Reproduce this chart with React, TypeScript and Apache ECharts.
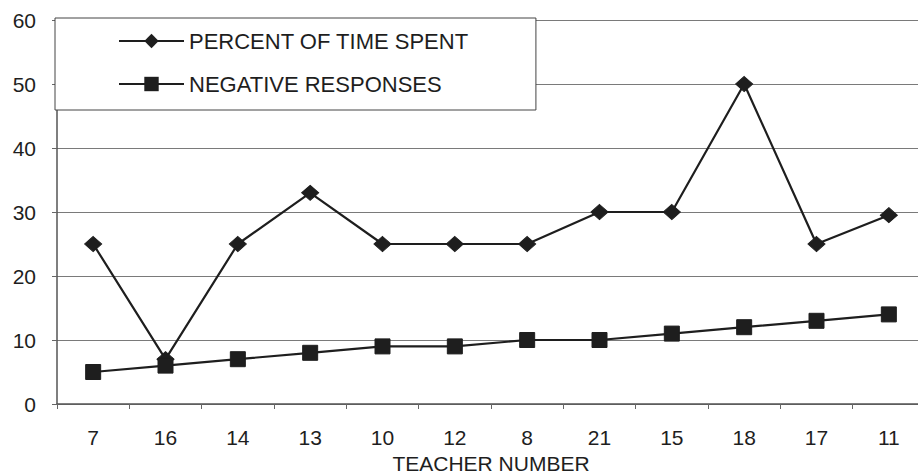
import React, { useEffect, useRef } from "react";
import * as echarts from "echarts";

const categories = ["7", "16", "14", "13", "10", "12", "8", "21", "15", "18", "17", "11"];
const percentTimeSpent = [25, 7, 25, 33, 25, 25, 25, 30, 30, 50, 25, 29.5];
const negativeResponses = [5, 6, 7, 8, 9, 9, 10, 10, 11, 12, 13, 14];
const yTicks = { min: 0, max: 60, interval: 10 };

export default function App() {
  const ref = useRef<HTMLDivElement>(null);
  useEffect(() => {
    if (!ref.current) return;
    const chart = echarts.init(ref.current, null, { renderer: "svg" });
    const ink = "#1e1e1e";
    chart.setOption({
      animation: false,
      backgroundColor: "#ffffff",
      textStyle: { fontFamily: "Liberation Sans", color: ink },
      grid: { left: 57, right: -7, top: 20, bottom: 71, containLabel: false, outerBoundsMode: "none" },
      legend: {
        orient: "vertical",
        left: 55,
        top: 18,
        padding: [12, 67, 15, 63],
        itemGap: 21,
        itemWidth: 65,
        itemHeight: 18,
        backgroundColor: "#ffffff",
        borderColor: "#444",
        borderWidth: 1,
        borderRadius: 0,
        textStyle: { fontSize: 22, color: ink, fontFamily: "Liberation Sans" },
        data: ["PERCENT OF TIME SPENT", "NEGATIVE RESPONSES"],
      },
      xAxis: {
        type: "category",
        data: categories,
        boundaryGap: true,
        name: "TEACHER NUMBER",
        nameLocation: "middle",
        nameGap: 45,
        nameTextStyle: { fontSize: 21, color: ink },
        axisLine: { show: true, lineStyle: { color: "#555", width: 1.5 } },
        axisTick: { show: true, alignWithLabel: false, length: 5, lineStyle: { color: "#666" } },
        axisLabel: { fontSize: 21, color: ink, margin: 23 },
        splitLine: { show: false },
      },
      yAxis: {
        type: "value",
        min: yTicks.min,
        max: yTicks.max,
        interval: yTicks.interval,
        axisLine: { show: true, lineStyle: { color: "#555", width: 1.5 } },
        axisTick: { show: true, length: 5, lineStyle: { color: "#666" } },
        axisLabel: { fontSize: 21, color: ink, margin: 21 },
        splitLine: { show: true, lineStyle: { color: "#7a7a7a", width: 1 } },
      },
      series: [
        {
          name: "PERCENT OF TIME SPENT",
          type: "line",
          data: percentTimeSpent,
          symbol: "diamond",
          symbolSize: [17, 15],
          lineStyle: { color: ink, width: 2.2 },
          itemStyle: { color: ink, borderColor: ink },
          z: 3,
        },
        {
          name: "NEGATIVE RESPONSES",
          type: "line",
          data: negativeResponses,
          symbol: "rect",
          symbolSize: 15,
          lineStyle: { color: ink, width: 2.2 },
          itemStyle: { color: ink, borderColor: ink },
          z: 4,
        },
      ],
    });
    return () => chart.dispose();
  }, []);
  return <div ref={ref} style={{ width: 918, height: 475, position: "absolute", left: 0, top: 0 }} />;
}
